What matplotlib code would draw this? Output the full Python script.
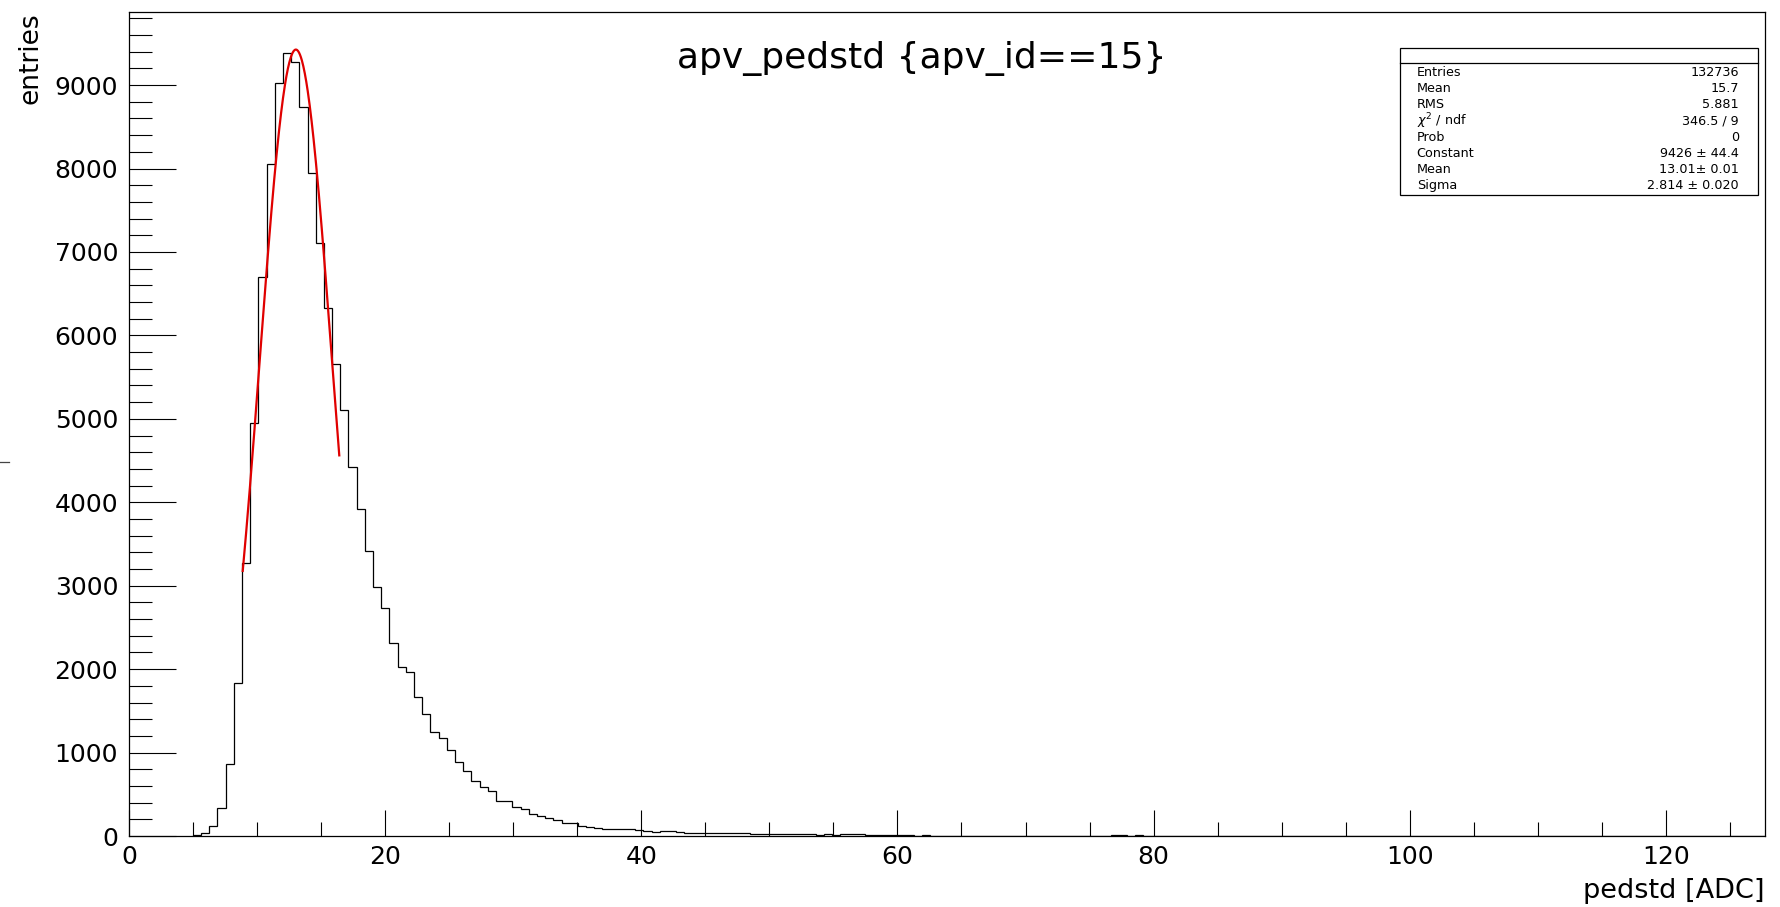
import numpy as np
import matplotlib
matplotlib.use("Agg")
import matplotlib.pyplot as plt
from matplotlib.patches import Rectangle
from matplotlib.lines import Line2D
from matplotlib.ticker import MultipleLocator

plt.rcParams['font.family'] = ['DejaVu Sans']

# ---- data ----
bin_start = 4.96
bin_width = 0.64
core_counts = [15, 30, 120, 330, 863, 1830, 3268, 4953, 6703, 8050, 9028, 9380,
               9273, 8733, 7942, 7103, 6331, 5653, 5105, 4426, 3915, 3416, 2988,
               2729, 2309, 2029, 1969, 1669, 1462, 1250, 1171, 1031, 890, 779,
               663, 591, 543, 423, 423, 344, 320, 268]
tail_counts = [240, 220, 196, 156, 156, 116, 108, 100, 88, 80, 84, 78, 76, 56,
               48, 64, 64, 52, 32, 40, 36, 36, 32, 40, 40, 40, 22, 20, 20, 20,
               20, 20, 20, 20, 12, 24, 16, 24, 18, 22, 8, 8, 8, 8, 8,
               6, 4, 10, 5, 4, 3, 5, 2, 3,
               3, 2, 0, 2, 1, 2, 0, 1, 2, 0, 1, 3, 0, 2, 1, 1,
               6, 6, 0, 6, 0, 1, 0, 2, 0, 4, 4, 0, 0, 1, 0, 4, 4, 0, 0, 0,
               3, 0, 0, 1, 0, 0, 0, 0, 0, 0, 4, 0, 0, 4, 0, 0, 0, 0, 0, 0,
               0, 0, 0, 0, 0, 0, 0, 0, 0, 0, 0, 0, 0, 0, 0, 0, 0, 0, 0, 0,
               0, 0, 0, 0, 0, 0, 0, 0, 4, 0, 0, 0, 0, 0, 0, 0, 0, 0, 0, 0,
               0, 0, 0]
fit_const = 9426.0
fit_mean = 13.01
fit_sigma = 2.814
fit_lo, fit_hi = 8.86, 16.4

title = "apv_pedstd {apv_id==15}"
xlabel = "pedstd [ADC]"
ylabel = "entries"
stat_names = ["Entries", "Mean", "RMS", r"$\chi^{2}$ / ndf", "Prob", "Constant", "Mean", "Sigma"]
stat_values = ["132736", "15.7", "5.881", "346.5 / 9", "0", "9426 \u00b1 44.4",
               "13.01\u00b1 0.01", "2.814 \u00b1 0.020"]

counts = np.array(core_counts + tail_counts, dtype=float)
edges = bin_start + bin_width * np.arange(len(counts) + 1)

# ---- figure ----
W, H = 1780, 907
fig = plt.figure(figsize=(W / 100, H / 100), dpi=100)

def fx(px):
    return px / W

def fy(py):
    return 1 - py / H

ax_l, ax_r, ax_t, ax_b = 129.3, 1765.0, 11.7, 836.0
ax = fig.add_axes([fx(ax_l), fy(ax_b), fx(ax_r - ax_l), (ax_b - ax_t) / H])

ax.stairs(counts, edges, color='black', linewidth=0.9)
xf = np.linspace(fit_lo, fit_hi, 200)
ax.plot(xf, fit_const * np.exp(-0.5 * ((xf - fit_mean) / fit_sigma) ** 2),
        color='#e00000', linewidth=1.6)

ax.set_xlim(0, 127.76)
ax.set_ylim(0, 9880)
ax.xaxis.set_major_locator(MultipleLocator(20))
ax.xaxis.set_minor_locator(MultipleLocator(5))
ax.yaxis.set_major_locator(MultipleLocator(1000))
ax.yaxis.set_minor_locator(MultipleLocator(200))
ax.tick_params(axis='both', which='both', direction='in', top=False, right=False,
               width=0.8, color='black', labelsize=18)
ax.tick_params(axis='x', which='major', length=19, pad=6.5)
ax.tick_params(axis='x', which='minor', length=10)
ax.tick_params(axis='y', which='major', length=34, pad=8)
ax.tick_params(axis='y', which='minor', length=16.5)
for s in ax.spines.values():
    s.set_linewidth(0.9)

# titles
fig.text(fx(921.7), fy(68.3), title, ha='center', va='baseline', fontsize=26)
fig.text(fx(1765), fy(898.5), xlabel, ha='right', va='baseline', fontsize=19.5)
fig.text(fx(31), fy(12), ylabel, rotation=90, ha='center', va='top', fontsize=19)

# stats box
bx0, bx1, by0, by1, bhead = 1400, 1757.7, 48.3, 195.0, 62.7
fig.patches.append(Rectangle((fx(bx0), fy(by1)), fx(bx1 - bx0), (by1 - by0) / H,
                             transform=fig.transFigure, facecolor='white',
                             edgecolor='black', linewidth=0.9, zorder=5))
fig.lines.append(Line2D([fx(bx0), fx(bx1)], [fy(bhead), fy(bhead)],
                        transform=fig.transFigure, color='black', linewidth=0.9, zorder=6))
for i, (n, v) in enumerate(zip(stat_names, stat_values)):
    yc = 72.3 + 16.2 * i
    fig.text(fx(1416.7), fy(yc), n, ha='left', va='center', fontsize=9.2, zorder=7)
    fig.text(fx(1739), fy(yc), v, ha='right', va='center', fontsize=9.2, zorder=7)

# small stray mark at left edge
fig.lines.append(Line2D([0, fx(8.5)], [fy(461.7), fy(461.7)], transform=fig.transFigure,
                        color='#444444', linewidth=0.9))

fig.savefig("out.png", dpi=100)
